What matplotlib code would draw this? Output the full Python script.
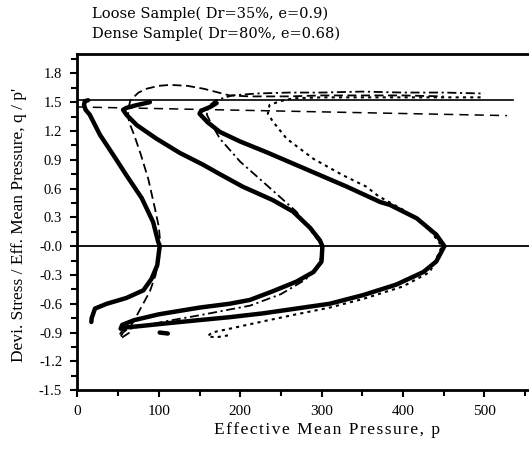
import matplotlib
matplotlib.use('Agg')
import matplotlib.pyplot as plt
from matplotlib.ticker import MultipleLocator, FixedLocator

plt.rcParams['font.family'] = ['Liberation Serif', 'DejaVu Serif']

# stress paths (p, q/p) for loose sample, three confining pressures
loose_100_p = [17, 17.4, 21.5, 36, 60, 81, 91, 98, 101, 99, 93, 79, 60, 44, 27.6, 15, 10, 8, 9, 13]
loose_100_r = [-0.79, -0.75, -0.65, -0.6, -0.54, -0.46, -0.34, -0.2, 0.0, 0.05, 0.25, 0.5, 0.74, 0.95, 1.16, 1.37, 1.42, 1.47, 1.51, 1.52]

loose_300_p = [53, 55, 70, 100, 150, 187, 212, 240, 269, 290, 300, 301, 298, 286, 265, 240, 203, 175, 154, 126, 97, 73, 60, 56, 60, 73, 89]
loose_300_r = [-0.86, -0.82, -0.77, -0.71, -0.64, -0.6, -0.56, -0.47, -0.37, -0.27, -0.16, 0.0, 0.06, 0.19, 0.36, 0.48, 0.62, 0.75, 0.85, 0.97, 1.12, 1.26, 1.37, 1.42, 1.44, 1.47, 1.50]

loose_450_p = [56, 80, 114, 150, 187, 228, 269, 310, 351, 392, 425, 441, 451, 441, 417, 384, 372, 331, 298, 265, 232, 200, 175, 160, 150, 152, 163, 171]
loose_450_r = [-0.85, -0.83, -0.80, -0.77, -0.74, -0.70, -0.65, -0.6, -0.51, -0.40, -0.27, -0.16, 0.0, 0.12, 0.29, 0.43, 0.46, 0.62, 0.74, 0.86, 0.98, 1.09, 1.19, 1.29, 1.38, 1.41, 1.45, 1.49]

# short detached piece of the loose record near the end of unloading
loose_tail_p = [101, 111]
loose_tail_r = [-0.90, -0.91]

# stress paths for dense sample
dense_100_p = [64, 55, 52, 56, 65, 73, 82, 89, 96, 101, 102, 100, 95, 87, 78, 70, 64, 62, 63, 65, 75, 85, 100, 114, 135, 155, 187, 212, 260, 300, 350, 400, 450]
dense_100_r = [-0.90, -0.95, -0.96, -0.90, -0.84, -0.72, -0.58, -0.47, -0.3, -0.1, 0.0, 0.2, 0.4, 0.7, 0.95, 1.15, 1.28, 1.35, 1.45, 1.52, 1.60, 1.64, 1.67, 1.68, 1.67, 1.64, 1.57, 1.56, 1.56, 1.57, 1.57, 1.57, 1.56]

dense_300_p = [52, 55, 75, 110, 150, 187, 212, 250, 280, 295, 300, 302, 294, 269, 232, 200, 175, 163, 159, 160, 170, 190, 220, 260, 300, 350, 400, 450, 500]
dense_300_r = [-0.92, -0.88, -0.84, -0.78, -0.72, -0.66, -0.62, -0.5, -0.35, -0.22, -0.1, 0.0, 0.08, 0.36, 0.64, 0.88, 1.12, 1.30, 1.37, 1.45, 1.52, 1.57, 1.59, 1.60, 1.60, 1.61, 1.60, 1.60, 1.59]

dense_450_p = [185, 170, 160, 165, 187, 230, 269, 310, 351, 400, 433, 440, 448, 430, 400, 370, 355, 326, 290, 257, 240, 234, 236, 249, 265, 300, 350, 400, 450, 500]
dense_450_r = [-0.93, -0.95, -0.94, -0.90, -0.86, -0.78, -0.71, -0.64, -0.55, -0.42, -0.27, -0.15, 0.0, 0.2, 0.38, 0.52, 0.62, 0.74, 0.91, 1.12, 1.30, 1.38, 1.47, 1.51, 1.54, 1.55, 1.55, 1.55, 1.55, 1.55]

# reference lines: failure line, phase transformation line
failure_p = [0, 535]
failure_r = [1.52, 1.52]
phase_p = [0, 528]
phase_r = [1.45, 1.36]

y_ticks = [1.8, 1.5, 1.2, 0.9, 0.6, 0.3, 0.0, -0.3, -0.6, -0.9, -1.2, -1.5]
y_labels = ['1.8', '1.5', '1.2', '0.9', '0.6', '0.3', '-0.0', '-0.3', '-0.6', '-0.9', '-1.2', '-1.5']
x_ticks = [0, 100, 200, 300, 400, 500]

fig = plt.figure(figsize=(5.29, 4.59), dpi=100)
ax = fig.add_axes([0.1465, 0.150, 0.8535, 0.732])

ax.axhline(0, color='black', lw=1.3)
ax.plot(failure_p, failure_r, color='black', lw=1.2)
ax.plot(phase_p, phase_r, color='black', lw=1.1, dashes=(6, 4))

for p, r in [(loose_100_p, loose_100_r), (loose_300_p, loose_300_r),
             (loose_450_p, loose_450_r), (loose_tail_p, loose_tail_r)]:
    ax.plot(p, r, color='black', lw=3.2, solid_capstyle='round')

ax.plot(dense_100_p, dense_100_r, color='black', lw=1.3, dashes=(5, 2.5))
ax.plot(dense_300_p, dense_300_r, color='black', lw=1.3, dashes=(5, 2, 1.2, 2))
ax.plot(dense_450_p, dense_450_r, color='black', lw=1.5, dashes=(1.5, 2))

ax.set_xlim(0, 555)
ax.set_ylim(-1.5, 2.0)
ax.xaxis.set_major_locator(FixedLocator(x_ticks))
ax.xaxis.set_minor_locator(MultipleLocator(50))
ax.set_yticks(y_ticks)
ax.set_yticklabels(y_labels)
ax.yaxis.set_minor_locator(MultipleLocator(0.15))
ax.tick_params(which='both', direction='out', width=1.5)
ax.tick_params(which='major', length=5)
ax.tick_params(which='minor', length=4)
ax.tick_params(axis='x', pad=6, labelsize=11)
ax.tick_params(axis='y', pad=6, labelsize=10.5)
ax.spines['right'].set_visible(False)
for s in ['left', 'bottom', 'top']:
    ax.spines[s].set_linewidth(2)

# slightly letter-spaced axis title, as in the printed figure
xlabel = '\u200a'.join('Effective Mean Pressure, p')

fig.text(0.036, 0.51, "Devi. Stress / Eff. Mean Pressure, q / p'", rotation=90,
         ha='center', va='center', fontsize=12.5)
fig.text(0.618, 0.063, xlabel, ha='center', va='center', fontsize=12.5)
fig.text(0.174, 0.969, 'Loose Sample( Dr=35%, e=0.9)', ha='left', va='center',
         fontsize=10.5, family='DejaVu Serif')
fig.text(0.174, 0.926, 'Dense Sample( Dr=80%, e=0.68)', ha='left', va='center',
         fontsize=10.5, family='DejaVu Serif')

fig.savefig('out.png', dpi=100)
